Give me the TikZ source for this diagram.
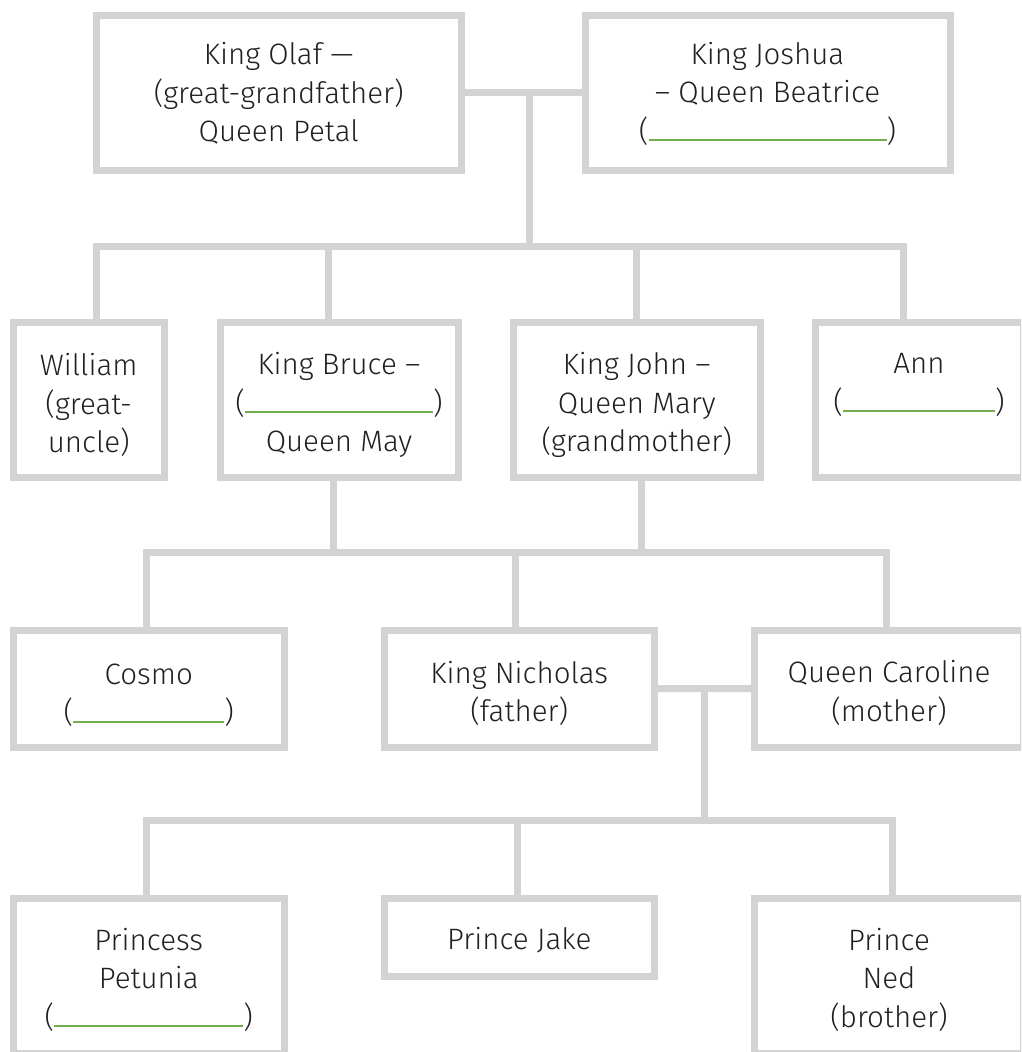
\documentclass[tikz,border=0pt]{standalone}
\usepackage{fontspec}
\setmainfont{Fira Sans Light}
\usetikzlibrary{calc}
\definecolor{linegray}{HTML}{D1D3D4}
\definecolor{txt}{HTML}{231F20}
\definecolor{lgreen}{HTML}{72AE50}
\newcommand\blank[1]{(\textcolor{lgreen}{\rule{#1}{1.8pt}})}
\begin{document}
\begin{tikzpicture}[x=1pt,y=-1pt,
  famline/.style={draw=linegray,line width=7pt},
  person/.style={draw=linegray,line width=7pt,rectangle,inner sep=0pt,outer sep=0pt,minimum height=155pt},
  ptext/.style={inner sep=0pt,outer sep=0pt,align=center,text=txt,font=\fontsize{29.5}{38.5}\selectfont},
  mid/.style={minimum height=117pt},
  short/.style={minimum height=77.5pt}]
\useasboundingbox (0,0) rectangle (1021,1052);
\clip (0,0) rectangle (1021,1052);
% row 1
\node[person,minimum width=364.5pt] (olaf) at (278.75,92.5) {};
\node[person,minimum width=365pt] (joshua) at (767.5,92.5) {};
% row 2
\node[person,minimum width=150.5pt] (william) at (88.75,400) {};
\node[person,minimum width=238pt] (bruce) at (339,400) {};
\node[person,minimum width=246.5pt] (john) at (636.75,400) {};
\node[person,minimum width=208pt] (ann) at (919,400) {};
% row 3
\node[person,mid,minimum width=270.5pt] (cosmo) at (148.75,689) {};
\node[person,mid,minimum width=270.5pt] (nicholas) at (519.25,688.75) {};
\node[person,mid,minimum width=269pt] (caroline) at (889,688.5) {};
% row 4
\node[person,minimum width=270.5pt] (petunia) at (148.75,976) {};
\node[person,short,minimum width=270.5pt] (jake) at (519.25,937.25) {};
\node[person,minimum width=269pt] (ned) at (889,976) {};
% texts
\node[ptext] (olaf-t) at ([yshift=-1pt]olaf.center) {King Olaf —\\(great-grandfather)\\Queen Petal};
\node[ptext] (joshua-t) at ([yshift=-1pt]joshua.center) {King Joshua\\– Queen Beatrice\\\blank{238pt}};
\node[ptext] (william-t) at ([yshift=-5pt]william.center) {William\\(great-\\uncle)};
\node[ptext] (bruce-t) at ([yshift=-5pt]bruce.center) {King Bruce –\\\blank{188pt}\\Queen May};
\node[ptext] (john-t) at ([yshift=-5pt]john.center) {King John –\\Queen Mary\\(grandmother)};
\node[ptext] (ann-t) at ([yshift=-5pt]ann.center) {Ann\\\blank{152pt}\\\vphantom{(g)}};
\node[ptext] (cosmo-t) at ([yshift=-6pt]cosmo.center) {Cosmo\\\blank{151pt}};
\node[ptext] (nicholas-t) at ([yshift=-4.5pt]nicholas.center) {King Nicholas\\(father)};
\node[ptext] (caroline-t) at ([yshift=-4.5pt]caroline.center) {Queen Caroline\\(mother)};
\node[ptext] (petunia-t) at ([yshift=-3.5pt]petunia.center) {Princess\\Petunia\\\blank{189pt}};
\node[ptext] (jake-t) at ([yshift=-3pt]jake.center) {Prince Jake};
\node[ptext] (ned-t) at ([yshift=-3.5pt]ned.center) {Prince\\Ned\\(brother)};
% connectors generation 1
\coordinate (m1) at (529.5,92.5);
\coordinate (b1) at (529.5,246.5);
\draw[famline] (olaf.east) -- (joshua.west);
\draw[famline] (m1) -- (b1);
\draw[famline] ([xshift=7.75pt]william.north) |- (b1) -| ([xshift=-15.5pt]ann.north);
\draw[famline] ([xshift=-10.5pt]bruce.north) -- ([xshift=-10.5pt]bruce.north |- b1);
\draw[famline] (john.north) -- (john.north |- b1);
% connectors generation 2
\coordinate (b2) at (519.25,552.5);
\draw[famline] ([xshift=-5.5pt]bruce.south) -- ([xshift=-5.5pt]bruce.south |- b2);
\draw[famline] ([xshift=4.75pt]john.south) -- ([xshift=4.75pt]john.south |- b2);
\draw[famline] ([xshift=-2.75pt]cosmo.north) |- (b2) -| ([xshift=-3pt]caroline.north);
\draw[famline] ([xshift=-3.75pt]nicholas.north) -- ([xshift=-3.75pt]nicholas.north |- b2);
% connectors generation 3
\coordinate (m3) at (704.5,688.75);
\coordinate (b3) at (704.5,820.5);
\draw[famline] (nicholas.east) -- (caroline.west);
\draw[famline] (m3) -- (b3);
\draw[famline] ([xshift=-2.75pt]petunia.north) |- (b3) -| ([xshift=3.5pt]ned.north);
\draw[famline] ([xshift=-2.25pt]jake.north) -- ([xshift=-2.25pt]jake.north |- b3);
\end{tikzpicture}
\end{document}
